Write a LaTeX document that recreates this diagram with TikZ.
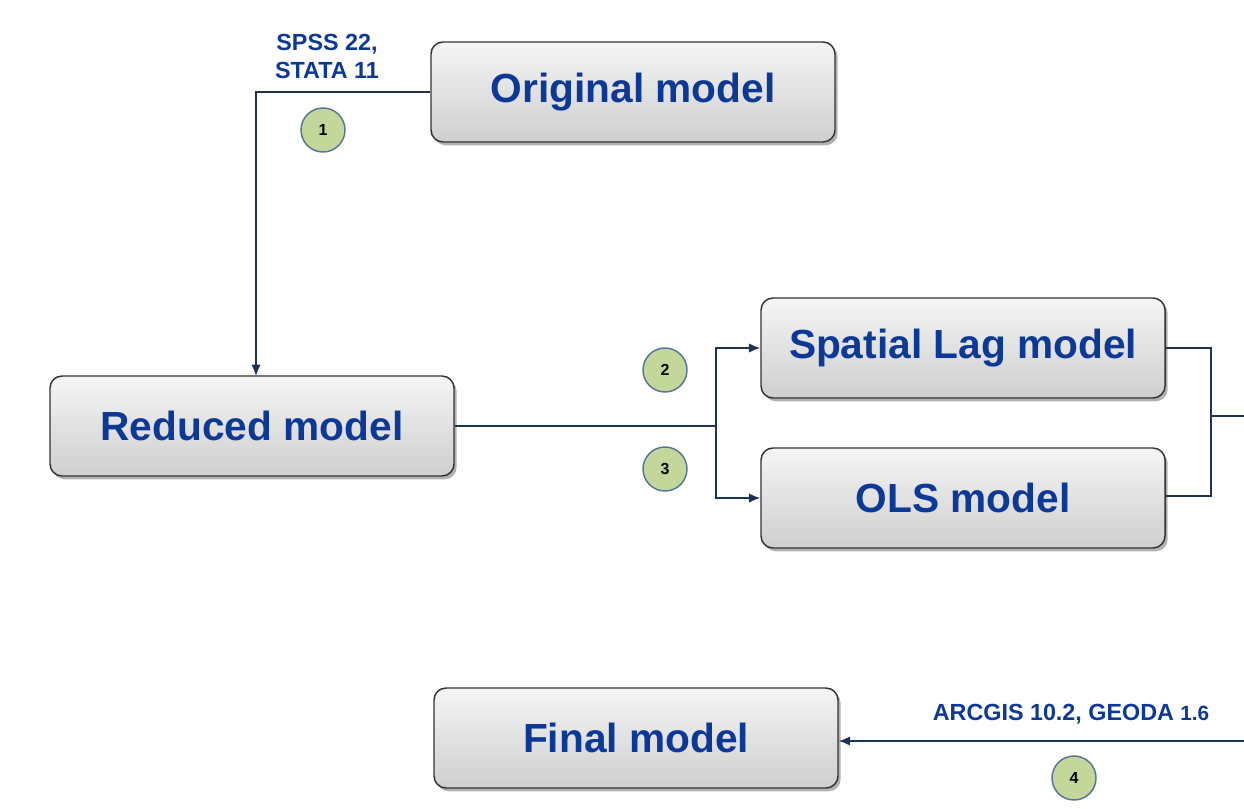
\documentclass[tikz,border=0pt]{standalone}
\usepackage{fontspec}
\setmainfont{Liberation Sans}
\usetikzlibrary{shadows,arrows.meta}
\definecolor{txtblue}{RGB}{12,56,150}
\definecolor{linecol}{RGB}{30,50,85}
\definecolor{circfill}{RGB}{196,215,155}
\definecolor{circdraw}{RGB}{85,115,155}
\tikzset{
  modelbox/.style={draw=black!80, line width=1.1pt, rounded corners=9pt,
    top color=gray!8, bottom color=gray!38,
    minimum width=303pt, minimum height=75pt,
    font=\fontsize{30.5}{34}\selectfont\bfseries, text=txtblue,
    drop shadow={shadow xshift=2pt, shadow yshift=-2.5pt, opacity=0.3, fill=black}},
  numcirc/.style={circle, draw=circdraw, line width=1.1pt, fill=circfill,
    minimum size=33pt, inner sep=0pt, font=\fontsize{12}{14}\selectfont\bfseries, text=black},
  conn/.style={draw=linecol, line width=1.1pt},
  arr/.style={conn, -{Latex[length=8.5pt,width=7pt]}},
  swlabel/.style={font=\fontsize{17.5}{21}\selectfont\bfseries, text=txtblue, align=center}
}
\begin{document}
\begin{tikzpicture}[x=0.75pt,y=-0.75pt]
\useasboundingbox (0,0) rectangle (1244,809);
\clip (0,0) rectangle (1244,809);
\node[modelbox] (orig) at (633,92) {Original model};
\node[modelbox] (red) at (252,426) {Reduced model};
\node[modelbox] (lag) at (963,348) {Spatial Lag model};
\node[modelbox] (ols) at (963,498) {OLS model};
\node[modelbox] (fin) at (636,738) {Final model};

\node[numcirc] (c1) at (323,130) {1};
\node[numcirc] (c2) at (665,370) {2};
\node[numcirc] (c3) at (665,469) {3};
\node[numcirc] (c4) at (1074,778) {4};

\node[swlabel] (l1) at (327,56) {SPSS 22,\\STATA 11};
\node[swlabel] (l4) at (1071,714) {ARCGIS 10.2, GEODA {\fontsize{15.5}{17}\selectfont 1.6}};

\coordinate (j1) at (716,426);
\coordinate (j2) at (1211,416);
\coordinate (outR) at (1250,416);
\coordinate (inR) at (1250,741);

\draw[arr] (orig.west) -- (256,92) -- (256,376);
\draw[conn] (red.east) -- (j1);
\draw[arr] (j1) -- (716,348) -- (lag.west);
\draw[arr] (j1) -- (716,498) -- (ols.west);
\draw[conn] (lag.east) -- (1211,348) -- (1211,496) -- (ols.east |- 0,496);
\draw[conn] (j2) -- (outR);
\draw[arr] (inR) -- (fin.east |- 0,741);
\end{tikzpicture}
\end{document}
